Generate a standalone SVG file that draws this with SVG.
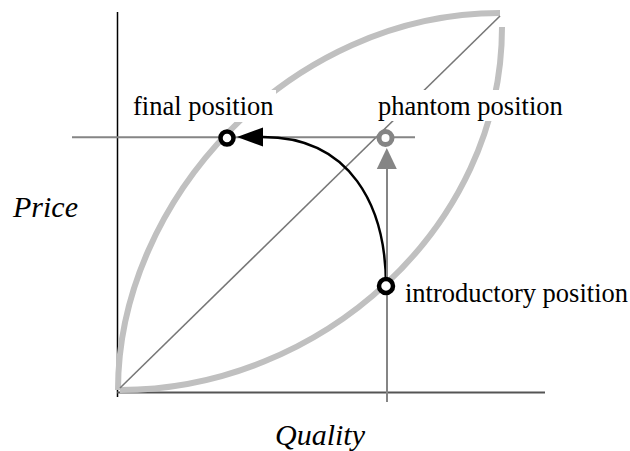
<svg xmlns="http://www.w3.org/2000/svg" width="630" height="451" viewBox="0 0 630 451">
<style>
.leaf{fill:none;stroke:#c0c0c0;stroke-width:6}
.guide{fill:none;stroke:#858585;stroke-width:2}
.lbl{font-family:"Liberation Serif","Times New Roman",serif;font-size:26.5px;fill:#000}
.axl{font-family:"Liberation Serif","Times New Roman",serif;font-size:30px;font-style:italic;fill:#000}
.bg{fill:#fff}
</style>
<rect width="630" height="451" fill="#fff"/>
<g id="axes">
<line x1="117.5" y1="12" x2="117.5" y2="397" stroke="#000" stroke-width="1.5"/>
<line x1="117" y1="392.5" x2="545" y2="392.5" stroke="#555" stroke-width="2"/>
</g>
<g id="leaf">
<path class="leaf" d="M118,390 C118,200 290,13 500,13"/>
<path class="leaf" d="M120,390 C320,390 502,228 502,27"/>
</g>
<line id="diagonal" x1="120" y1="388" x2="500" y2="16" stroke="#777" stroke-width="1.6"/>
<line class="guide" x1="72" y1="137.3" x2="415" y2="137.3"/>
<text class="axl" x="13" y="217">Price</text>
<text class="axl" x="275" y="445">Quality</text>
<g id="connectors">
<path d="M386,286 C386,205 350,137 263,137" fill="none" stroke="#000" stroke-width="2.5"/>
<polygon points="237,137 263,127.5 263,146.5" fill="#000"/>
<line x1="387" y1="166" x2="387" y2="402" stroke="#858585" stroke-width="2"/>
<polygon points="386.8,148 376.8,169 396.8,169" fill="#858585"/>
</g>
<g id="final">
<rect class="bg" x="131" y="90" width="145" height="32"/>
<text class="lbl" x="133" y="115">final position</text>
<circle cx="227" cy="138" r="6.5" fill="#fff" stroke="#000" stroke-width="4.5"/>
</g>
<g id="phantom">
<rect class="bg" x="376" y="90" width="190" height="31"/>
<text class="lbl" x="378" y="115">phantom position</text>
<circle cx="385.5" cy="138" r="6.5" fill="#fff" stroke="#858585" stroke-width="5"/>
</g>
<g id="introductory">
<text class="lbl" x="405" y="302">introductory position</text>
<circle cx="386" cy="286" r="7" fill="#fff" stroke="#000" stroke-width="4.5"/>
</g>
</svg>
